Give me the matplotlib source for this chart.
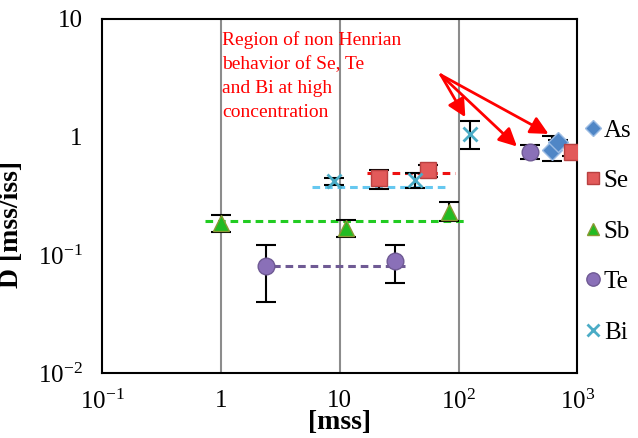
import numpy as np
import matplotlib
matplotlib.use("Agg")
import matplotlib.pyplot as plt

plt.rcParams["font.family"] = ["Liberation Serif", "DejaVu Serif"]
plt.rcParams["mathtext.fontset"] = "custom"
plt.rcParams["mathtext.rm"] = "Liberation Serif"
plt.rcParams["mathtext.it"] = "Liberation Serif:italic"
plt.rcParams["mathtext.bf"] = "Liberation Serif:bold"

# data
as_x = [610, 690]
as_y = [0.78, 0.90]
as_lo = [0.15, 0.05]
as_hi = [0.24, 0.05]

se_x = [21.5, 55, 900]
se_y = [0.45, 0.53, 0.74]
se_lo = [0.09, 0.07, 0.05]
se_hi = [0.08, 0.05, 0.12]

sb_x = [1.0, 11.3, 83]
sb_y = [0.186, 0.168, 0.233]
sb_lo = [0.028, 0.026, 0.038]
sb_hi = [0.032, 0.032, 0.047]

te_x = [2.4, 29, 396]
te_y = [0.081, 0.0895, 0.75]
te_lo = [0.041, 0.031, 0.10]
te_hi = [0.041, 0.031, 0.11]

bi_x = [8.9, 43, 124]
bi_y = [0.42, 0.43, 1.05]
bi_lo = [0.03, 0.06, 0.26]
bi_hi = [0.03, 0.07, 0.32]

# constant (Henrian) levels, x range and value
fit_se = ([17, 94], 0.50)
fit_bi = ([5.8, 77], 0.377)
fit_sb = ([0.74, 118], 0.195)
fit_te = ([2.14, 35.6], 0.081)

arrow_src = (71, 3.35)
arrow_tips = [(114, 1.47), (310, 0.83), (572, 1.06)]

fig = plt.figure(figsize=(6.38, 4.38), dpi=100)
ax = fig.add_axes([0.160, 0.148, 0.745, 0.809])
ax.set_xscale("log")
ax.set_yscale("log")
ax.set_xlim(0.1, 1000)
ax.set_ylim(0.01, 10)

for xv in [1, 10, 100]:
    ax.axvline(xv, color="#8c8c8c", lw=1.5, zorder=0)

dash = dict(lw=2.2, dashes=(2.5, 1.6), zorder=1)
ax.plot(fit_sb[0], [fit_sb[1]] * 2, color="#22cc22", **dash)
ax.plot(fit_se[0], [fit_se[1]] * 2, color="#ee1111", **dash)
ax.plot(fit_bi[0], [fit_bi[1]] * 2, color="#66c8f0", **dash)
ax.plot(fit_te[0], [fit_te[1]] * 2, color="#6f5a94", **dash)

eb = dict(ecolor="black", elinewidth=1.5, capsize=7, capthick=1.5, ls="none")
series = [
    ("As", as_x, as_y, as_lo, as_hi, "D", "#4f86c6", "#9cbce4", 10),
    ("Se", se_x, se_y, se_lo, se_hi, "s", "#e25a5a", "#b84040", 11),
    ("Sb", sb_x, sb_y, sb_lo, sb_hi, "^", "#22bb22", "#889933", 11),
    ("Te", te_x, te_y, te_lo, te_hi, "o", "#8a70b8", "#6f5a94", 12),
    ("Bi", bi_x, bi_y, bi_lo, bi_hi, "x", "#4bacc6", "#4bacc6", 10),
]
for name, x, y, lo, hi, mk, fc, ec, ms in series:
    ax.errorbar(x, y, yerr=[lo, hi], **eb, zorder=3)
    ax.plot(x, y, ls="none", marker=mk, ms=ms, mfc=fc, mec=ec,
            mew=2 if mk == "x" else 1, zorder=4, label=name)

ax.text(0.253, 0.966, "Region of non Henrian\nbehavior of Se, Te\nand Bi at high\nconcentration",
        transform=ax.transAxes, color="red", fontsize=14, va="top", ha="left",
        linespacing=1.55)
for tip in arrow_tips:
    ax.annotate("", xy=tip, xytext=arrow_src,
                arrowprops=dict(arrowstyle="-|>", color="red", lw=2,
                                mutation_scale=27, shrinkA=0, shrinkB=0))

ax.set_xticks([0.1, 1, 10, 100, 1000])
ax.set_xticklabels([r"$10^{-1}$", "1", "10", r"$10^{2}$", r"$10^{3}$"])
ax.set_yticks([0.01, 0.1, 1, 10])
ax.set_yticklabels([r"$10^{-2}$", r"$10^{-1}$", "1", "10"])
ax.minorticks_off()
ax.tick_params(axis="both", length=0, labelsize=18)
ax.tick_params(axis="x", pad=12)
ax.tick_params(axis="y", pad=14)
for s in ax.spines.values():
    s.set_linewidth(1.5)

ax.set_xlabel("[mss]", fontsize=20, fontweight="bold", labelpad=-3)
ax.set_ylabel("D [mss/iss]", fontsize=20, fontweight="bold")
ax.yaxis.set_label_coords(-0.165, 0.42)

ax.legend(loc="upper left", bbox_to_anchor=(0.995, 0.745), frameon=False,
          fontsize=18, handlelength=0.6, handletextpad=0.15,
          labelspacing=1.12, borderaxespad=0, markerscale=0.8)

fig.savefig("out.png", dpi=100)
